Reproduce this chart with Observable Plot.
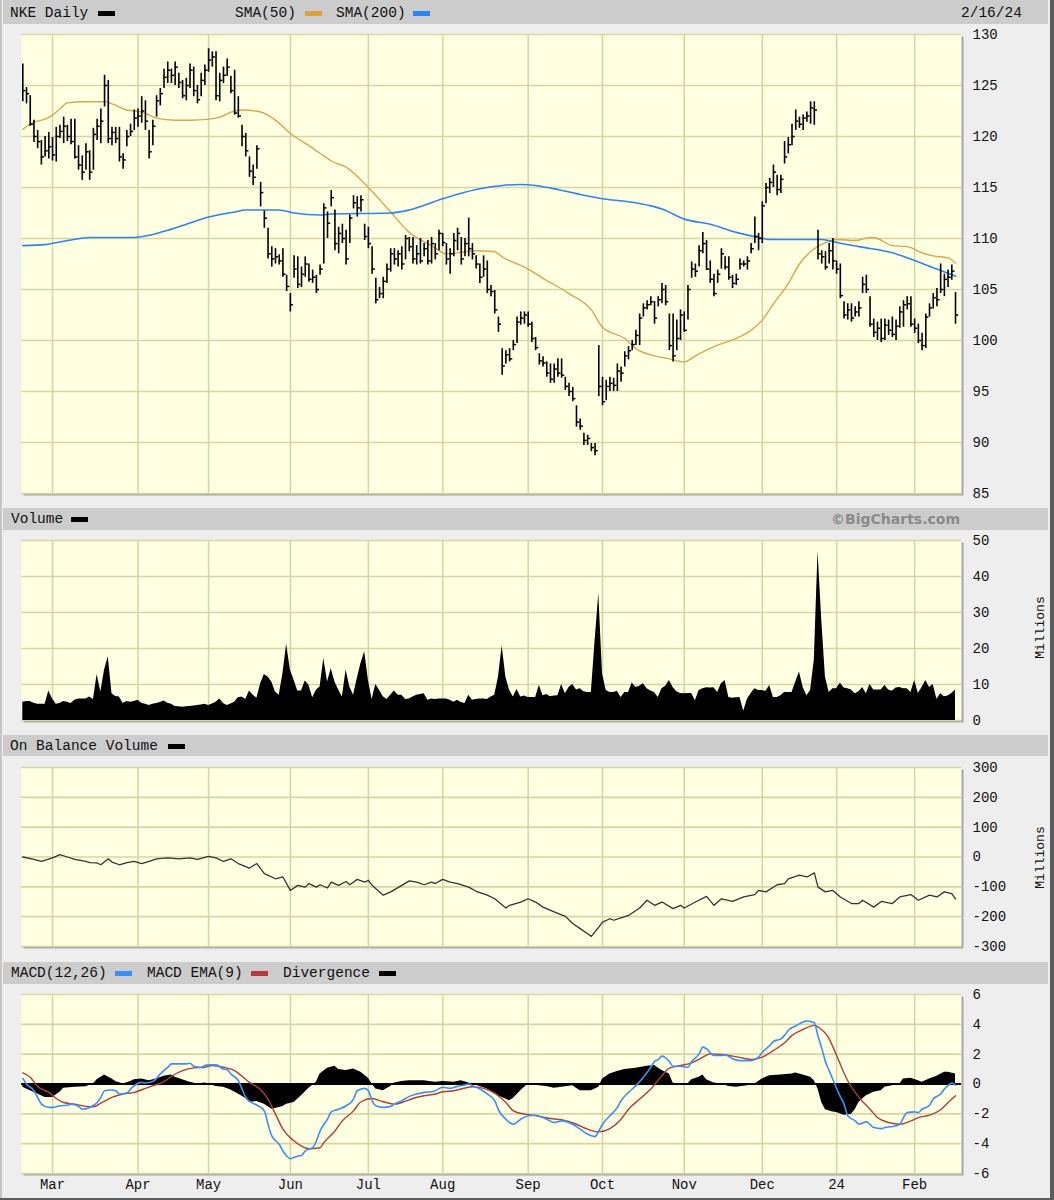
<!DOCTYPE html>
<html><head><meta charset="utf-8">
<script src="https://cdn.jsdelivr.net/npm/d3@7"></script>
<script src="https://cdn.jsdelivr.net/npm/@observablehq/plot@0.6"></script>
<style>
body{margin:0;background:#eeeeee;}
#wrap{position:relative;width:1054px;height:1200px;background:#eeeeee;overflow:hidden;font-family:'Liberation Mono',monospace;}
.hb{position:absolute;left:3px;width:1045px;background:#cccccc;}
.t{position:absolute;font-size:14.5px;line-height:14px;color:#111;white-space:pre;}
.sw{position:absolute;height:5px;width:17px;}
.mil{position:absolute;font-size:13px;line-height:13px;width:70px;text-align:center;transform:rotate(-90deg);color:#111;}
.edgeR{position:absolute;right:0;top:0;width:4px;height:1200px;background:#5c5c5c;}
.edgeL{position:absolute;left:0;top:0;width:2px;height:1200px;background:#c6c6c6;}
.edgeB{position:absolute;left:0;bottom:0;width:1054px;height:2px;background:#5c5c5c;}
</style></head><body><div id="wrap"></div>
<script>
// ---------- data ----------
const monthIdx = [8,31,50,72,93,113,136,156,178,199,219,240];
const monthLabels = ["Mar","Apr","May","Jun","Jul","Aug","Sep","Oct","Nov","Dec","24","Feb"];
const priceTicks = [85,90,95,100,105,110,115,120,125,130];
const volTicks = [0,10,20,30,40,50];
const obvTicks = [-300,-200,-100,0,100,200,300];
const macdTicks = [-6,-4,-2,0,2,4,6];

const high = [127.1,124.8,124.0,121.6,120.6,119.6,120.0,120.4,119.9,120.9,
121.1,121.9,121.1,121.7,121.7,119.1,118.1,119.3,118.6,120.8,
121.7,122.7,126.0,125.5,120.9,120.9,120.9,118.3,120.6,121.2,
122.6,122.7,123.9,123.5,120.6,121.6,124.0,124.7,126.6,127.3,
126.6,127.3,126.2,125.5,125.7,127.1,126.8,125.0,126.2,127.0,
128.6,128.3,128.3,126.2,126.8,127.6,125.9,126.5,123.9,121.1,
120.3,118.0,117.2,119.1,115.5,112.7,111.0,109.2,109.0,108.4,
109.0,106.4,104.6,108.3,108.2,107.2,108.2,107.5,106.9,106.4,
107.4,113.4,112.6,114.7,112.8,111.1,111.4,110.8,112.3,114.2,
114.1,114.2,111.4,111.1,109.2,106.1,105.2,106.2,107.5,109.0,
109.0,108.8,109.2,110.3,110.1,110.1,109.3,110.0,109.5,109.8,
110.1,109.5,110.8,110.5,109.5,109.0,110.5,111.0,110.1,110.0,
112.0,109.5,108.3,107.5,108.3,107.8,105.4,104.9,102.3,99.2,
99.0,99.2,100.0,102.3,102.8,102.8,102.8,101.8,100.3,98.7,
98.4,97.9,97.7,97.7,98.2,98.2,96.4,95.8,95.4,93.6,
92.3,90.9,90.7,89.9,89.9,99.5,96.4,96.1,96.4,96.3,
97.7,97.4,98.9,99.4,100.0,101.0,102.6,103.6,103.9,104.3,
103.8,104.3,105.6,105.4,102.6,102.6,102.0,103.0,102.8,105.4,
107.7,107.5,109.3,110.6,109.8,107.8,106.5,106.9,109.0,108.2,
108.2,106.4,106.5,108.0,107.8,108.2,109.5,112.1,110.5,113.6,
115.4,115.9,117.2,116.2,116.2,119.5,119.9,121.2,122.6,121.9,
122.1,122.4,123.4,123.4,110.8,108.8,108.7,109.5,110.0,107.8,
107.5,103.8,103.6,103.6,103.3,103.8,106.2,106.4,104.3,102.1,
101.8,102.1,102.1,102.0,102.3,102.0,103.3,103.9,104.3,104.3,
102.1,101.6,100.7,102.6,103.6,104.6,105.1,107.5,106.5,106.9,
107.4,104.7];
const low = [123.4,123.2,121.0,119.4,118.8,117.2,118.0,117.8,117.6,117.5,
119.8,119.3,119.5,119.2,117.8,116.7,115.7,116.7,115.7,116.7,
119.6,119.3,122.9,119.3,119.1,119.3,117.5,116.8,119.0,120.0,
120.6,120.9,121.3,120.6,117.8,119.1,121.9,123.0,124.7,125.2,
125.2,125.0,124.7,123.7,123.5,124.7,123.9,123.2,123.9,125.0,
126.3,126.8,123.5,123.4,125.2,125.9,124.2,122.1,121.8,119.0,
118.0,116.0,115.2,116.8,113.1,111.0,108.0,107.2,107.5,107.4,
106.2,104.8,102.8,106.1,105.1,105.2,106.2,105.7,105.6,104.6,
106.4,107.5,110.0,113.1,108.8,108.5,109.5,107.4,109.5,112.9,
112.1,112.6,109.8,109.0,106.5,103.6,104.1,104.1,105.6,106.7,
107.4,107.2,106.9,107.9,108.7,107.5,107.4,107.5,108.2,107.4,
107.5,107.9,108.8,109.2,107.4,106.5,108.2,108.8,107.4,108.2,
108.2,107.9,107.0,105.6,106.2,104.6,104.3,102.6,100.8,96.6,
97.7,97.9,99.0,99.7,101.5,101.6,101.3,99.8,99.0,97.6,
97.4,96.4,95.8,95.8,96.4,96.3,95.1,94.5,94.0,91.5,
91.2,89.7,89.7,89.1,88.7,94.5,93.6,94.1,95.0,95.0,
95.0,95.9,97.4,98.1,99.0,99.5,99.5,102.3,103.0,103.4,
101.6,103.3,103.6,103.4,99.0,97.9,99.0,100.0,100.8,102.0,
106.1,106.2,107.2,108.5,106.9,105.6,104.3,105.6,107.0,106.9,
105.9,105.1,105.4,106.9,107.2,106.9,108.5,109.5,108.8,109.5,
113.4,114.4,115.0,114.2,114.4,117.3,118.3,119.1,120.6,120.8,
120.6,121.4,121.2,121.1,107.9,107.5,106.9,107.5,106.9,106.5,
104.1,102.1,102.0,101.8,102.3,102.3,104.6,104.6,101.3,100.3,
100.0,99.8,100.0,100.5,100.3,100.0,101.2,101.3,103.0,101.3,
100.7,99.7,99.0,99.2,102.3,103.1,103.3,104.6,104.3,105.2,
105.9,101.6];
const close = [124.5,124.2,121.2,120.0,119.5,118.0,118.6,119.0,118.2,120.0,
120.5,121.0,120.0,119.5,118.0,117.2,116.5,118.5,116.5,120.2,
121.0,121.5,125.0,119.8,120.4,119.8,118.0,117.7,120.0,120.5,
121.8,122.0,122.5,121.5,118.5,121.0,123.5,124.2,125.8,126.5,
126.0,126.8,125.3,124.0,125.0,126.5,124.5,123.6,125.5,126.5,
127.5,127.8,124.0,125.5,126.0,126.8,124.5,122.3,122.0,120.0,
118.6,116.6,116.0,118.8,114.5,112.0,108.5,108.0,108.2,107.8,
106.5,105.3,103.5,107.0,105.5,106.5,107.5,106.0,106.2,105.0,
107.0,113.0,111.5,114.0,109.5,110.5,110.0,108.0,112.0,113.5,
113.0,113.8,110.2,109.5,107.0,104.0,104.6,105.8,107.0,108.5,
108.0,108.5,107.5,110.0,109.2,108.0,108.5,107.8,109.0,107.8,
109.5,108.5,110.5,109.6,108.0,108.5,109.8,110.5,108.0,109.5,
109.0,108.5,107.5,106.2,107.0,105.0,104.8,103.0,101.6,97.5,
98.6,98.2,99.6,101.8,102.2,102.5,101.6,100.2,99.3,98.0,
97.8,96.8,96.2,97.2,96.8,96.6,95.5,95.0,94.3,92.0,
91.6,90.2,90.4,89.5,89.2,95.5,94.0,95.5,95.8,95.6,
97.0,96.8,98.5,99.0,99.6,100.5,102.2,103.2,103.5,103.8,
102.2,104.0,105.0,103.8,99.5,98.5,100.2,102.5,101.0,105.0,
107.0,106.8,108.8,109.5,107.0,106.0,104.6,106.5,108.5,107.2,
106.2,105.6,106.0,107.5,107.5,107.8,109.0,110.2,110.0,113.2,
115.0,115.5,116.5,114.8,115.8,118.0,119.2,120.0,121.5,121.2,
121.8,122.0,122.8,122.6,108.5,108.2,107.2,108.8,107.8,107.0,
104.4,102.5,103.0,102.2,102.8,103.2,105.5,105.0,101.6,100.8,
101.2,100.2,101.5,101.0,100.6,101.4,102.8,103.5,103.6,101.6,
101.2,100.0,99.5,102.3,103.2,104.2,104.0,105.0,106.0,106.2,
106.8,102.5];

// [trading-day index, value] pairs
const sma50 = [[0,120.7],[3,121.4],[6,121.7],[8,122.1],[10,122.7],[12,123.3],[16,123.4],[22,123.4],[24,123.2],[28,122.6],[32,122.4],[36,121.8],[41,121.6],[45,121.6],[50,121.7],[53,121.9],[57,122.5],[59,122.6],[64,122.4],[68,121.6],[72,120.3],[77,119.1],[81,118.1],[83,117.6],[87,117.0],[93,115.0],[99,112.6],[104,110.6],[110,109.3],[114,108.5],[119,108.7],[122,108.8],[127,108.7],[129,108.2],[136,107.0],[140,106.1],[147,104.6],[153,103.0],[156,101.3],[162,100.2],[165,99.2],[170,98.5],[174,98.2],[178,97.9],[181,98.5],[186,99.4],[192,100.2],[196,101.0],[199,102.0],[202,103.6],[206,105.6],[209,107.5],[213,109.0],[216,109.6],[219,109.9],[224,109.8],[228,110.1],[230,110.0],[234,109.3],[238,109.2],[242,108.6],[245,108.3],[249,108.1],[251,107.6]];
const sma200 = [[0,109.3],[6,109.4],[12,109.8],[18,110.1],[30,110.1],[35,110.4],[39,110.8],[44,111.4],[50,112.1],[57,112.6],[60,112.8],[69,112.8],[73,112.5],[80,112.3],[83,112.4],[99,112.5],[104,112.8],[113,113.9],[122,114.8],[129,115.2],[134,115.3],[138,115.2],[144,114.8],[149,114.4],[156,113.9],[163,113.6],[169,113.2],[172,112.9],[178,111.9],[185,111.4],[192,110.6],[198,110.1],[201,109.9],[215,109.9],[219,109.6],[225,109.2],[234,108.6],[241,107.7],[246,107.0],[251,106.3]];

const volume = [5.1,5.3,5.3,4.8,4.5,4.5,4.5,8.2,6.0,4.5,
4.7,5.3,5.1,4.7,5.6,6.0,6.0,6.0,6.5,5.8,
12.8,7.9,14.0,17.7,7.4,6.7,6.5,4.7,5.3,5.1,
5.3,5.6,4.8,4.5,4.2,4.5,4.7,5.0,5.4,4.8,
4.5,3.9,3.8,3.7,3.8,3.9,4.0,4.2,4.3,4.5,
4.2,4.6,5.1,6.0,4.7,4.2,4.6,5.1,6.3,6.5,
5.8,8.2,7.0,6.2,10.2,12.8,12.1,10.7,7.9,7.0,
13.0,21.2,14.0,11.2,8.2,8.2,11.0,9.8,6.3,8.4,
9.3,17.2,10.7,14.4,10.7,8.5,6.5,14.0,9.3,7.0,
11.6,15.8,19.1,11.2,5.8,10.0,8.4,6.6,5.8,7.0,
8.2,7.0,7.0,5.8,6.0,6.5,7.0,7.2,7.4,5.6,
6.0,5.8,6.0,6.0,6.0,5.6,5.1,5.6,5.0,4.7,
7.0,5.6,5.8,6.0,6.0,5.8,6.5,7.0,12.0,20.7,
12.0,8.4,6.5,8.6,6.5,6.8,6.4,6.4,6.4,9.7,
6.9,7.2,6.6,6.8,6.9,10.0,7.4,9.2,10.0,8.5,
8.8,8.0,7.8,7.8,22.0,35.2,13.0,8.3,7.8,7.8,
8.1,6.4,7.8,7.8,10.4,9.2,9.5,10.2,8.8,8.2,
7.8,6.4,8.8,9.5,11.1,9.2,8.0,7.5,7.4,7.5,
7.5,5.5,8.3,8.8,9.1,9.0,9.1,7.8,10.2,11.1,
6.4,6.2,6.3,6.4,2.6,5.9,7.5,8.8,8.3,8.3,
8.1,9.7,6.4,6.4,6.9,7.8,7.8,7.8,10.7,13.5,
9.2,6.9,8.3,16.8,47.0,28.0,12.0,7.8,8.8,8.8,
10.4,9.0,8.8,8.5,7.4,8.0,9.2,7.4,10.0,8.5,
8.5,8.5,9.7,8.5,8.1,9.0,9.2,8.8,8.8,7.8,
11.1,7.5,9.2,11.1,9.2,10.0,5.9,7.4,6.6,6.8,
7.5,8.5];

const obv = [[0,0],[3,-8],[5,-15],[8,-3],[10,8],[12,0],[14,-8],[17,-15],[18,-19],[20,-20],[21,-26],[23,-6],[24,-17],[26,-26],[28,-19],[30,-15],[32,-22],[34,-15],[36,-6],[39,-3],[42,-6],[45,-3],[47,-8],[50,2],[52,-3],[54,-15],[56,-6],[58,-22],[61,-37],[63,-22],[65,-56],[68,-73],[70,-67],[72,-112],[74,-95],[76,-101],[77,-89],[79,-101],[80,-93],[82,-104],[83,-84],[85,-95],[87,-82],[88,-93],[90,-75],[92,-84],[93,-78],[94,-95],[96,-117],[97,-128],[99,-117],[102,-95],[104,-80],[106,-84],[108,-93],[110,-84],[111,-89],[113,-75],[115,-84],[117,-89],[120,-101],[122,-115],[125,-128],[127,-140],[130,-171],[131,-162],[134,-151],[136,-140],[138,-151],[140,-168],[143,-184],[146,-199],[148,-223],[150,-240],[152,-257],[153,-266],[155,-235],[156,-218],[158,-207],[159,-212],[161,-204],[163,-196],[166,-171],[168,-145],[170,-162],[172,-151],[175,-173],[177,-162],[178,-171],[181,-151],[184,-132],[186,-162],[188,-140],[191,-149],[194,-134],[197,-126],[198,-112],[200,-117],[203,-93],[205,-89],[206,-73],[209,-61],[211,-67],[213,-53],[214,-101],[216,-117],[218,-112],[220,-134],[223,-156],[225,-156],[226,-145],[229,-168],[231,-149],[234,-156],[236,-134],[239,-126],[241,-145],[244,-128],[246,-134],[248,-117],[250,-123],[251,-140]];

const macd = [[0,0.38],[1,0],[3,-0.45],[4,-0.9],[5,-1.35],[7,-1.57],[8,-1.57],[10,-1.46],[12,-1.42],[13,-1.35],[15,-1.5],[16,-1.69],[18,-1.57],[20,-1.24],[21,-0.9],[22,-0.45],[24,-0.4],[25,-0.45],[26,-0.67],[28,-0.61],[29,-0.34],[30,-0.11],[32,0.11],[33,0.07],[35,0.16],[36,0.38],[37,0.67],[39,1.12],[40,1.35],[42,1.35],[44,1.35],[45,1.39],[46,1.19],[48,1.12],[49,1.24],[50,1.28],[52,1.28],[54,1.01],[55,0.97],[56,0.67],[58,0.22],[59,-0.34],[60,-0.9],[62,-1.3],[63,-1.42],[65,-1.8],[66,-2.7],[67,-3.48],[69,-4.04],[70,-4.49],[71,-4.83],[72,-5.01],[74,-4.83],[75,-4.79],[76,-4.49],[78,-4.27],[79,-3.82],[80,-3.15],[82,-2.36],[83,-1.87],[85,-1.69],[87,-1.46],[89,-1.01],[90,-0.45],[92,-0.29],[93,-0.45],[94,-1.12],[95,-1.46],[97,-1.57],[99,-1.5],[100,-1.35],[102,-1.12],[104,-0.83],[106,-0.67],[108,-0.56],[110,-0.52],[111,-0.45],[113,-0.22],[115,-0.29],[117,-0.16],[119,-0.07],[120,0],[121,-0.11],[123,-0.34],[125,-0.67],[127,-1.12],[128,-1.73],[130,-2.36],[131,-2.58],[132,-2.7],[134,-2.36],[136,-2.13],[138,-2.09],[141,-2.36],[143,-2.58],[145,-2.47],[148,-2.7],[150,-3.03],[152,-3.37],[154,-3.53],[155,-3.15],[156,-2.7],[158,-2.13],[160,-1.57],[161,-1.12],[163,-0.56],[165,-0.11],[167,0.45],[169,1.12],[170,1.51],[171,1.64],[172,1.87],[174,1.51],[175,1.19],[177,1.19],[179,1.12],[180,1.51],[182,2.02],[183,2.47],[184,2.36],[186,1.91],[188,1.91],[189,1.96],[191,1.69],[193,1.57],[196,1.57],[198,1.8],[199,2.13],[201,2.58],[202,2.85],[204,3.03],[205,3.26],[206,3.6],[208,3.89],[210,4.16],[211,4.22],[213,4.1],[214,3.2],[215,2.4],[216,1.5],[217,0.9],[218,0.3],[219,-0.3],[220,-0.85],[221,-1.35],[222,-2.13],[224,-2.47],[225,-2.7],[227,-2.54],[228,-2.7],[229,-2.92],[231,-2.99],[232,-2.92],[234,-2.85],[236,-2.7],[237,-2.25],[238,-1.91],[240,-1.87],[241,-1.91],[242,-1.69],[244,-1.42],[245,-1.01],[247,-0.67],[248,-0.34],[249,-0.11],[250,0.07],[251,-0.07]];

const macdEma = [[0,0.74],[2,0.45],[4,-0.16],[7,-0.56],[9,-0.97],[11,-1.24],[14,-1.35],[17,-1.5],[19,-1.53],[21,-1.28],[24,-0.9],[27,-0.67],[30,-0.56],[33,-0.29],[35,-0.11],[38,0.16],[40,0.52],[43,0.9],[46,1.08],[49,1.12],[51,1.24],[54,1.12],[57,0.9],[59,0.52],[61,0.11],[64,-0.38],[66,-1.01],[68,-2.02],[70,-3.03],[73,-3.82],[75,-4.16],[77,-4.34],[80,-4.27],[81,-3.93],[84,-3.15],[86,-2.47],[89,-1.8],[91,-1.19],[94,-0.97],[97,-1.19],[100,-1.35],[102,-1.24],[105,-0.97],[108,-0.79],[111,-0.67],[113,-0.52],[116,-0.45],[119,-0.27],[121,-0.18],[124,-0.29],[127,-0.61],[130,-1.24],[132,-1.8],[135,-2.02],[137,-2.09],[142,-2.31],[145,-2.4],[149,-2.7],[152,-3.03],[155,-3.21],[158,-2.99],[161,-2.36],[163,-1.69],[166,-1.01],[169,-0.34],[172,0.56],[174,1.06],[177,1.24],[180,1.42],[183,1.8],[185,2.02],[188,1.98],[191,1.87],[194,1.73],[196,1.64],[199,1.8],[202,2.25],[205,2.76],[207,3.26],[210,3.66],[213,3.93],[214,3.82],[217,3.03],[219,1.91],[222,0.22],[225,-0.9],[228,-1.69],[230,-2.25],[233,-2.58],[236,-2.7],[239,-2.47],[241,-2.25],[244,-2.09],[247,-1.73],[249,-1.24],[251,-0.79]];

const divergence = [[0,-0.22],[2,-0.45],[4,-0.67],[6,-0.9],[8,-0.9],[10,-0.56],[11,-0.29],[14,-0.22],[17,-0.18],[19,0],[20,0.29],[22,0.61],[24,0.34],[25,0.16],[27,0],[29,0.16],[30,0.29],[32,0.34],[34,0.22],[36,0.34],[38,0.52],[40,0.61],[41,0.45],[43,0.29],[45,0.11],[47,0],[49,0.07],[50,0],[52,-0.16],[54,-0.22],[56,-0.4],[58,-0.67],[60,-0.97],[61,-1.24],[63,-1.17],[65,-1.35],[67,-1.69],[68,-1.64],[70,-1.5],[71,-1.35],[73,-1.24],[75,-0.79],[77,-0.29],[79,0.11],[80,0.67],[82,1.06],[84,1.19],[85,0.97],[87,0.9],[89,1.01],[91,0.79],[93,0.38],[94,0],[95,-0.34],[97,-0.45],[99,-0.16],[100,0.07],[102,0.16],[104,0.22],[108,0.22],[111,0.11],[113,0.16],[116,0.11],[118,0.22],[120,0.07],[121,0],[123,-0.16],[125,-0.34],[127,-0.67],[129,-0.9],[131,-1.12],[132,-0.97],[134,-0.45],[136,0],[139,-0.11],[141,-0.16],[143,-0.29],[145,-0.22],[148,-0.11],[150,-0.45],[153,-0.45],[155,-0.22],[156,0.34],[158,0.67],[160,0.83],[162,0.97],[165,1.06],[168,1.19],[170,1.24],[172,0.9],[174,0.67],[175,0.07],[176,0],[179,0],[180,0.29],[182,0.45],[183,0.61],[184,0.29],[186,0.07],[188,0],[190,-0.16],[192,-0.22],[195,-0.11],[197,0],[199,0.34],[201,0.56],[204,0.61],[207,0.67],[208,0.74],[210,0.61],[212,0.45],[213,0.22],[214,-0.34],[215,-1.24],[216,-1.73],[218,-1.87],[219,-1.91],[221,-2.09],[223,-2.02],[224,-1.73],[225,-1.24],[227,-0.79],[229,-0.56],[231,-0.45],[232,-0.22],[234,-0.11],[236,0],[237,0.34],[239,0.38],[241,0.22],[242,0.11],[244,0.34],[246,0.52],[248,0.79],[249,0.79],[251,0.67]];

// ---------- drawing ----------
const wrap = document.getElementById("wrap");
const xDomain = [-0.35, 252.61];
const gridColor = "#d7d5a4";
const panelBg = "#ffffe2";

const bars = high.map((h, i) => ({i, high: h, low: low[i], close: close[i]}));
const volData = volume.map((v, i) => ({i, v}));

function panel(o) {
  const svg = Plot.plot({
    width: 1054, height: o.height,
    marginLeft: 21, marginRight: 93, marginTop: o.mt, marginBottom: o.mb,
    x: o.xAxis
      ? {domain: xDomain, ticks: monthIdx, tickFormat: d => monthLabels[monthIdx.indexOf(d)], tickSize: 0, tickPadding: 6, label: null}
      : {domain: xDomain, axis: null},
    y: {domain: o.yDomain, axis: "right", ticks: o.yTicks, tickSize: 0, tickPadding: 11, tickFormat: d => String(d), label: null},
    style: {fontFamily: "'Liberation Mono', monospace", fontSize: "14px", color: "#111", background: "transparent", overflow: "visible"},
    marks: [
      Plot.frame({fill: "#a6a6a6", dx: 2, dy: 2}),
      Plot.frame({fill: panelBg}),
      Plot.ruleY(o.yTicks, {stroke: gridColor, strokeWidth: 1.6}),
      Plot.ruleX(monthIdx, {stroke: gridColor, strokeWidth: 1.6}),
      ...o.marks
    ]
  });
  svg.style.position = "absolute";
  svg.style.left = "0px";
  svg.style.top = o.top + "px";
  wrap.appendChild(svg);
}

// price panel
panel({
  top: 24, height: 484, mt: 10, mb: 15, yDomain: [85, 130], yTicks: priceTicks,
  marks: [
    Plot.line(sma50, {x: d => d[0], y: d => d[1], stroke: "#dba64c", strokeWidth: 1.4, curve: "monotone-x"}),
    Plot.line(sma200, {x: d => d[0], y: d => d[1], stroke: "#2f84ee", strokeWidth: 1.6, curve: "monotone-x"}),
    Plot.ruleX(bars, {x: "i", y1: "low", y2: "high", stroke: "#000", strokeWidth: 1.6}),
    Plot.ruleY(bars, {y: "close", x1: "i", x2: d => d.i + 0.85, stroke: "#000", strokeWidth: 1.5})
  ]
});

// volume panel
panel({
  top: 530, height: 200, mt: 10, mb: 10, yDomain: [0, 50], yTicks: volTicks,
  marks: [
    Plot.areaY(volData, {x: "i", y: "v", fill: "#000"})
  ]
});

// OBV panel
panel({
  top: 756, height: 200, mt: 11, mb: 10, yDomain: [-300, 300], yTicks: obvTicks,
  marks: [
    Plot.line(obv, {x: d => d[0], y: d => d[1], stroke: "#333", strokeWidth: 1.3})
  ]
});

// MACD panel
panel({
  top: 984, height: 216, mt: 10, mb: 27, yDomain: [-6, 6], yTicks: macdTicks, xAxis: true,
  marks: [
    Plot.areaY(divergence, {x: d => d[0], y: d => d[1], fill: "#000"}),
    Plot.ruleY([0], {stroke: "#000", strokeWidth: 2}),
    Plot.line(macdEma, {x: d => d[0], y: d => d[1], stroke: "#b23c3c", strokeWidth: 1.4, curve: "monotone-x"}),
    Plot.line(macd, {x: d => d[0], y: d => d[1], stroke: "#3b8ef5", strokeWidth: 1.6, curve: "monotone-x"})
  ]
});

// ---------- header bars, legends, labels ----------
function el(cls, styles, text) {
  const d = document.createElement("div");
  d.className = cls;
  Object.assign(d.style, styles);
  if (text != null) d.textContent = text;
  wrap.appendChild(d);
  return d;
}
el("hb", {top: "0px", height: "24px"});
el("hb", {top: "508px", height: "22px"});
el("hb", {top: "735px", height: "21px"});
el("hb", {top: "962px", height: "22px"});

// top header
el("t", {left: "10px", top: "6px"}, "NKE Daily");
el("sw", {left: "98px", top: "11px", background: "#000"});
el("t", {left: "235px", top: "6px"}, "SMA(50)");
el("sw", {left: "305px", top: "11px", background: "#d9a240"});
el("t", {left: "336px", top: "6px"}, "SMA(200)");
el("sw", {left: "413px", top: "11px", background: "#2f84ee"});
el("t", {left: "961px", top: "6px"}, "2/16/24");

// volume header
el("t", {left: "11px", top: "512px"}, "Volume");
el("sw", {left: "71px", top: "517px", background: "#000"});
el("t", {right: "94px", top: "512px", fontFamily: "'DejaVu Sans', sans-serif", fontWeight: "bold", fontSize: "14px", color: "#8a8a8a"}, "\u00A9BigCharts.com");

// OBV header
el("t", {left: "10px", top: "739px"}, "On Balance Volume");
el("sw", {left: "168px", top: "744px", background: "#000"});

// MACD header
el("t", {left: "11px", top: "966px"}, "MACD(12,26)");
el("sw", {left: "115px", top: "971px", background: "#3b8ef5"});
el("t", {left: "147px", top: "966px"}, "MACD EMA(9)");
el("sw", {left: "251px", top: "971px", background: "#b23c3c"});
el("t", {left: "283px", top: "966px"}, "Divergence");
el("sw", {left: "379px", top: "971px", background: "#000"});

// "Millions" axis labels
el("mil", {left: "1005px", top: "621px"}, "Millions");
el("mil", {left: "1005px", top: "851px"}, "Millions");

// outer edges
el("edgeL", {});
el("edgeR", {});
el("edgeB", {});
</script>
</body></html>
